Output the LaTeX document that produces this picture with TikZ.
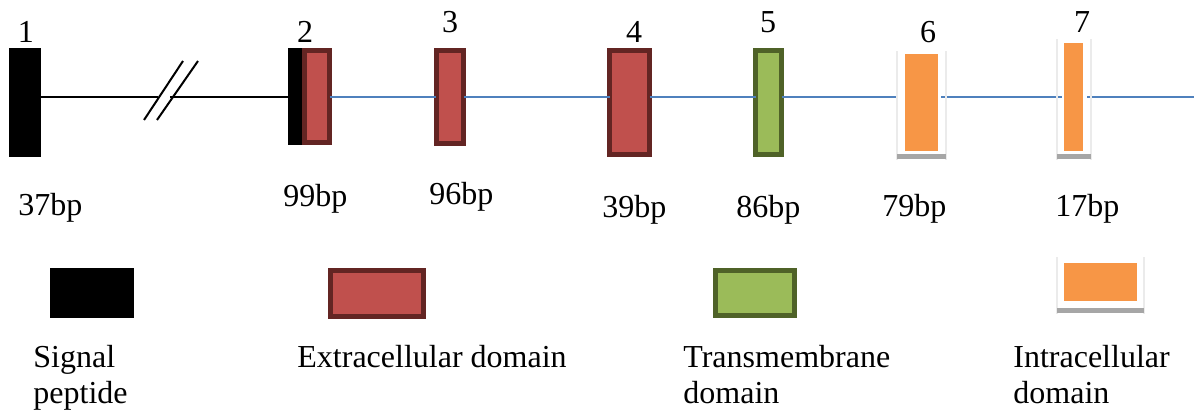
\documentclass[tikz,border=0pt]{standalone}
\usepackage{fontspec}
\setmainfont{Liberation Serif}
\definecolor{exred}{HTML}{C0504D}
\definecolor{exredline}{HTML}{632523}
\definecolor{tmgreen}{HTML}{9BBB59}
\definecolor{tmgreenline}{HTML}{4F6228}
\definecolor{icorange}{HTML}{F79646}
\definecolor{axisblue}{HTML}{4F81BD}
\definecolor{barGray}{HTML}{A6A6A6}
\definecolor{sideGray}{HTML}{EBEBEB}
% #1 style, #2 name, #3 border width (pt), #4..#7 outer box x1,y1,x2,y2 (px)
\newcommand\exonrect[7]{%
  \pgfmathsetmacro\ew{(#6-#4)/2-#3}%
  \pgfmathsetmacro\eh{(#7-#5)/2-#3}%
  \node[#1, line width=#3pt, minimum width=\ew pt, minimum height=\eh pt]
    (#2) at ({(#4+#6)/2},{(#5+#7)/2}) {};%
}
\tikzset{
  box/.style={rectangle, inner sep=0pt, outer sep=0pt},
  sigbox/.style={box, fill=black},
  ecdbox/.style={box, fill=exred, draw=exredline},
  tmbox/.style={box, fill=tmgreen, draw=tmgreenline},
  icdbox/.style={box, fill=icorange},
  framebox/.style={box},
  frameside/.style={draw=sideGray, line width=0.8pt},
  framebar/.style={draw=barGray, line width=2.5pt},
  blackaxis/.style={draw=black, line width=1pt},
  blueaxis/.style={draw=axisblue, line width=1pt},
  lbl/.style={inner sep=0pt, font=\fontsize{16pt}{18pt}\selectfont},
}
\begin{document}
\begin{tikzpicture}[x=0.5pt, y=-0.5pt]
\useasboundingbox (0,0) rectangle (1194,410);

% exon 1 (signal peptide) and the intron break
\exonrect{sigbox}{e1}{0}{9}{48}{41}{157}
\coordinate (axis) at (0,97);
\coordinate (brkL) at (158,97);
\coordinate (brkR) at (170,97);
\coordinate (s1a) at (144,120); \coordinate (s1b) at (183,61);
\coordinate (s2a) at (157,120); \coordinate (s2b) at (198,61);

% exon 2: signal part + extracellular part
\exonrect{sigbox}{e2s}{0}{288}{48}{302}{145}
\exonrect{ecdbox}{e2}{2.3}{302}{48}{332}{145}
% exons 3, 4: extracellular
\exonrect{ecdbox}{e3}{2.3}{434}{48}{466}{146}
\exonrect{ecdbox}{e4}{2.5}{607}{48}{652}{157}
% exon 5: transmembrane
\exonrect{tmbox}{e5}{2.5}{753}{48}{784}{157}
% exons 6, 7: intracellular, each in a light frame with a grey base
\exonrect{framebox}{f6}{0}{897}{51}{946}{160}
\exonrect{icdbox}{e6}{0}{905}{54}{938}{151}
\exonrect{framebox}{f7}{0}{1057}{39}{1091}{160}
\exonrect{icdbox}{e7}{0}{1064}{43}{1083}{151}
\coordinate (tail) at (1194,97);

% intron lines
\draw[blackaxis] (e1.east |- axis) -- (brkL);
\draw[blackaxis] (brkR) -- (e2s.west |- axis);
\draw[blackaxis] (s1a) -- (s1b);
\draw[blackaxis] (s2a) -- (s2b);
\draw[blueaxis] (e2.east |- axis) -- (e3.west |- axis);
\draw[blueaxis] (e3.east |- axis) -- (e4.west |- axis);
\draw[blueaxis] (e4.east |- axis) -- (e5.west |- axis);
\draw[blueaxis] (e5.east |- axis) -- (f6.west |- axis);
\draw[blueaxis] ([xshift=-2.5pt]f6.east |- axis) -- ([xshift=2.5pt]f7.west |- axis);
\draw[blueaxis] ([xshift=-2pt]f7.east |- axis) -- (tail);

% frames of the intracellular exons
\foreach \f in {f6,f7}{
  \draw[frameside] (\f.north west) -- (\f.south west);
  \draw[frameside] (\f.north east) -- (\f.south east);
  \draw[framebar] ([yshift=1.5pt]\f.south west) -- ([yshift=1.5pt]\f.south east);
}

% exon numbers
\node[lbl, anchor=base] (n1) at (26,43) {1};
\node[lbl, anchor=base] (n2) at (305,43) {2};
\node[lbl, anchor=base] (n3) at (450,33) {3};
\node[lbl, anchor=base] (n4) at (634,43) {4};
\node[lbl, anchor=base] (n5) at (768,33) {5};
\node[lbl, anchor=base] (n6) at (928,43) {6};
\node[lbl, anchor=base] (n7) at (1082,33) {7};

% exon lengths
\node[lbl, anchor=base west] (b1) at (18,216) {37bp};
\node[lbl, anchor=base west] (b2) at (283,207) {99bp};
\node[lbl, anchor=base west] (b3) at (429,205) {96bp};
\node[lbl, anchor=base west] (b4) at (602,218) {39bp};
\node[lbl, anchor=base west] (b5) at (736,218) {86bp};
\node[lbl, anchor=base west] (b6) at (882,217) {79bp};
\node[lbl, anchor=base west] (b7) at (1055,217) {17bp};

% legend
\exonrect{sigbox}{k1}{0}{50}{268}{134}{318}
\exonrect{ecdbox}{k2}{2.5}{328}{268}{426}{319}
\exonrect{tmbox}{k3}{2.5}{713}{268}{797}{318}
\exonrect{framebox}{kf}{0}{1057}{257}{1144}{314}
\exonrect{icdbox}{k4}{0}{1064}{263}{1137}{301}
\draw[frameside] (kf.north west) -- (kf.south west);
\draw[frameside] (kf.north east) -- (kf.south east);
\draw[framebar] ([yshift=1.5pt]kf.south west) -- ([yshift=1.5pt]kf.south east);

\node[lbl, anchor=north west, align=left] (t1) at (33,345) {Signal\\peptide};
\node[lbl, anchor=north west, align=left] (t2) at (297,345) {Extracellular domain};
\node[lbl, anchor=north west, align=left] (t3) at (683,345) {Transmembrane\\domain};
\node[lbl, anchor=north west, align=left] (t4) at (1013,345) {Intracellular\\domain};
\end{tikzpicture}
\end{document}
